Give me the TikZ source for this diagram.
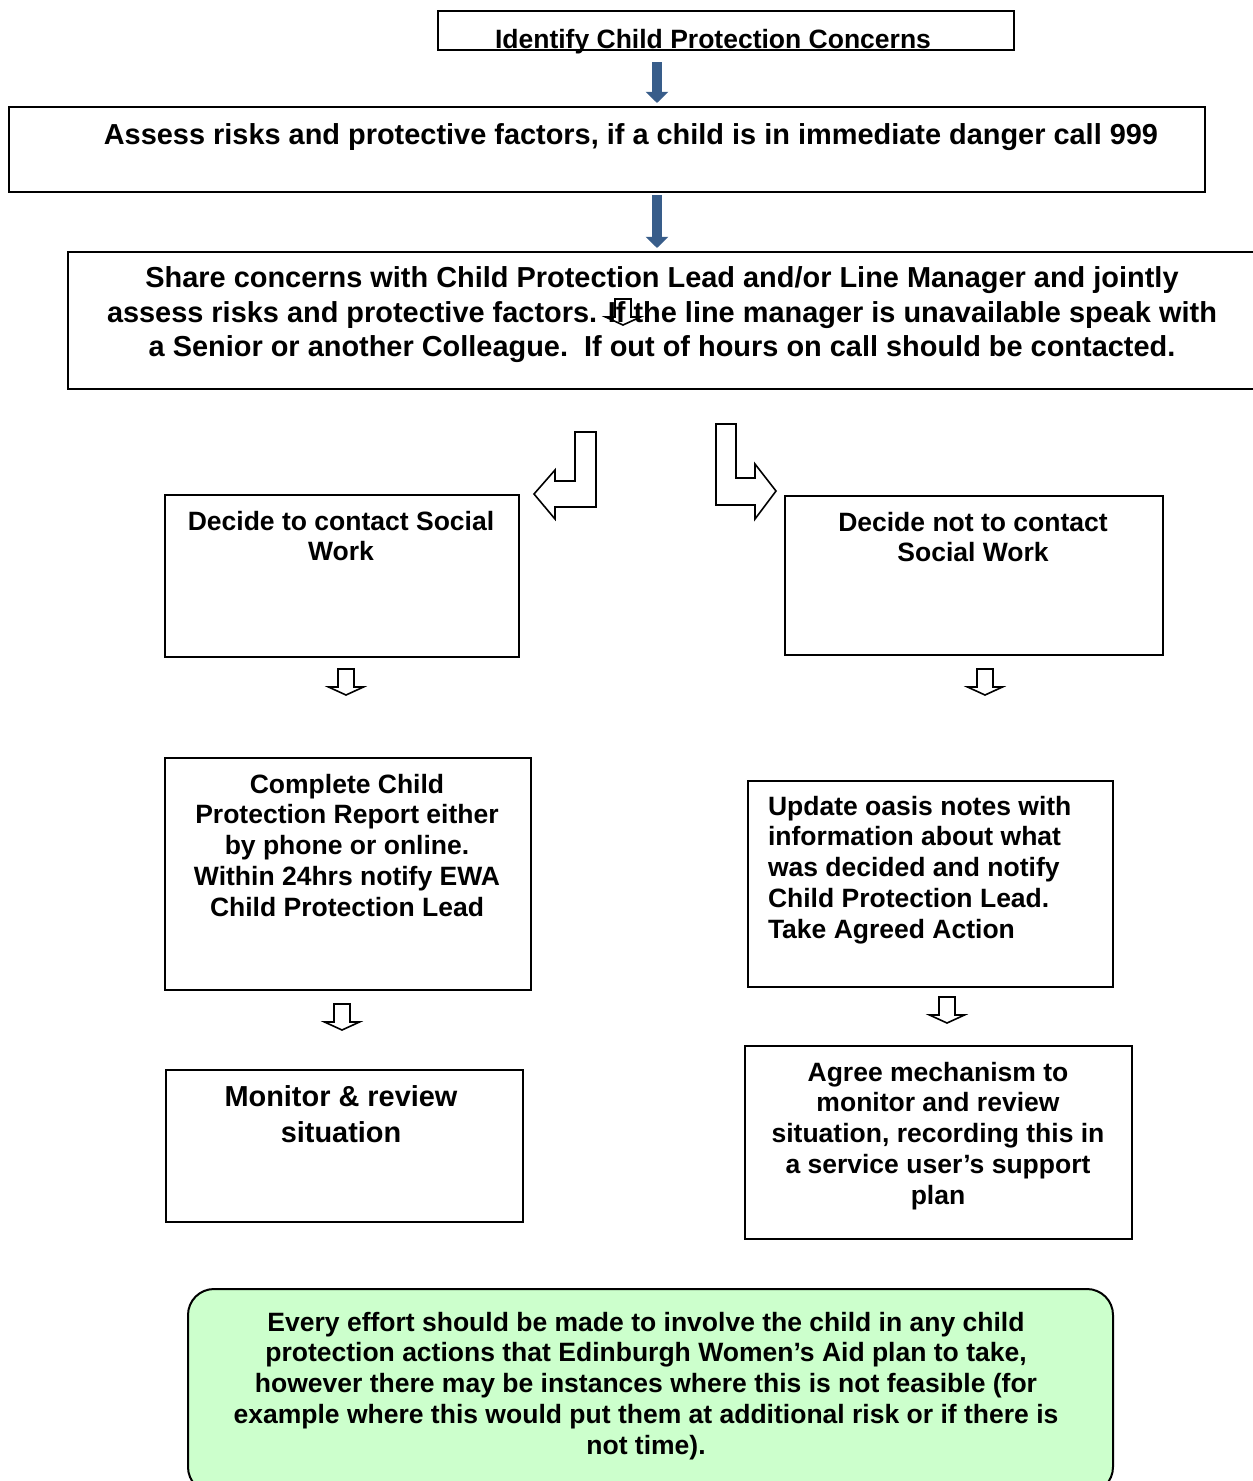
\documentclass[tikz,border=0pt]{standalone}
\usepackage{fontspec}
\setmainfont{Liberation Sans}
\usetikzlibrary{arrows.meta}
\newlength{\du}
\setlength{\du}{0.415pt}
\definecolor{arrowblue}{rgb}{0.220000, 0.365000, 0.540000}
\definecolor{effortgreen}{rgb}{0.800000, 1.000000, 0.800000}
\tikzset{
  box/.style={draw=black, line width=2\du, anchor=north west, inner sep=0pt},
  txt/.style={anchor=north, inner sep=0pt, outer sep=0pt, align=center,
    font=\bfseries\fontsize{11}{12.75}\selectfont},
  bigtxt/.style={txt, font=\bfseries\fontsize{12}{14.3}\selectfont},
  bluearr/.style={draw=arrowblue, line width=10\du, arrows={-Triangle[length=4.6pt, width=9.1pt]}},
  hollow/.style={draw=black, line width=1.6\du, line join=miter},
  pics/downblock/.style={code={
    \draw[hollow, pic actions] (-8,0) -- (8,0) -- (8,18) -- (17.5,18) -- (0,26) -- (-17.5,18) -- (-8,18) -- cycle;
  }}
}

\begin{document}
\begin{tikzpicture}[x=\du, y=-\du]
\useasboundingbox (0,0) rectangle (1253,1481);
\coordinate (axis) at (657,0);

% boxes
\node[box, minimum width=576\du, minimum height=39\du] (ident) at (437,10) {};
\node[box, minimum width=1196\du, minimum height=85\du] (assess) at (8,106) {};
\node[box, minimum width=1195\du, minimum height=137\du] (share) at (67,251) {};
\node[box, minimum width=354\du, minimum height=162\du] (social) at (164,494) {};
\node[box, minimum width=378\du, minimum height=159\du] (nosocial) at (784,495) {};
\node[box, minimum width=366\du, minimum height=232\du] (report) at (164,757) {};
\node[box, minimum width=365\du, minimum height=206\du] (oasis) at (747,780) {};
\node[box, minimum width=357\du, minimum height=152\du] (monitor) at (165,1069) {};
\node[box, minimum width=387\du, minimum height=193\du] (agree) at (744,1045) {};
\node[box, fill=effortgreen, rounded corners=26\du, minimum width=925\du, minimum height=204\du] (effort) at (187,1288) {};

% texts
\node[txt, anchor=base] (ident-t) at (713,48) {Identify Child Protection Concerns};
\node[bigtxt, anchor=base] (assess-t) at (631,144) {Assess risks and protective factors, if a child is in immediate danger call 999};
\node[bigtxt] (share-t) at (662,267) {Share concerns with Child Protection Lead and/or Line Manager and jointly\\
  assess risks and protective factors. If the line manager is unavailable speak with\\
  a Senior or another Colleague.\ \ If out of hours on call should be contacted.};
\node[txt] (social-t) at (341,511) {Decide to contact Social\\Work};
\node[txt] (nosocial-t) at (973,512) {Decide not to contact\\Social Work};
\node[txt] (report-t) at (347,774) {Complete Child\\Protection Report either\\by phone or online.\\Within 24hrs notify EWA\\Child Protection Lead};
\node[txt, anchor=north west, align=left] (oasis-t) at (768,796) {Update oasis notes with\\information about what\\was decided and notify\\Child Protection Lead.\\Take Agreed Action};
\node[txt, font=\bfseries\fontsize{12}{14.6}\selectfont] (monitor-t) at (341,1086) {Monitor \& review\\situation};
\node[txt] (agree-t) at (938,1062) {Agree mechanism to\\monitor and review\\situation, recording this in\\a service user’s support\\plan};
\node[txt] (effort-t) at (646,1312) {Every effort should be made to involve the child in any child\\
  protection actions that Edinburgh Women’s Aid plan to take,\\
  however there may be instances where this is not feasible (for\\
  example where this would put them at additional risk or if there is\\
  not time).};

% blue arrows
\draw[bluearr, shorten <=11\du, shorten >=3\du] (ident.south -| axis) -- (assess.north -| axis);
\draw[bluearr, shorten <=2\du, shorten >=3\du] (assess.south -| axis) -- (share.north -| axis);

% bent hollow arrows
\draw[hollow] (596,432) -- (575,432) -- (575,481) -- (555,481) -- (555,470) -- (534,494)
  -- (555,519) -- (555,507) -- (596,507) -- cycle;
\draw[hollow] (716,424) -- (736,424) -- (736,478) -- (755,478) -- (755,464) -- (776,491)
  -- (755,519) -- (755,505) -- (716,505) -- cycle;

% small hollow arrows
\pic at (346,669) {downblock};
\pic at (985,669) {downblock};
\pic at (342,1004) {downblock};
\pic at (947,997) {downblock};
\pic at (623,299) {downblock};
\end{tikzpicture}
\end{document}
